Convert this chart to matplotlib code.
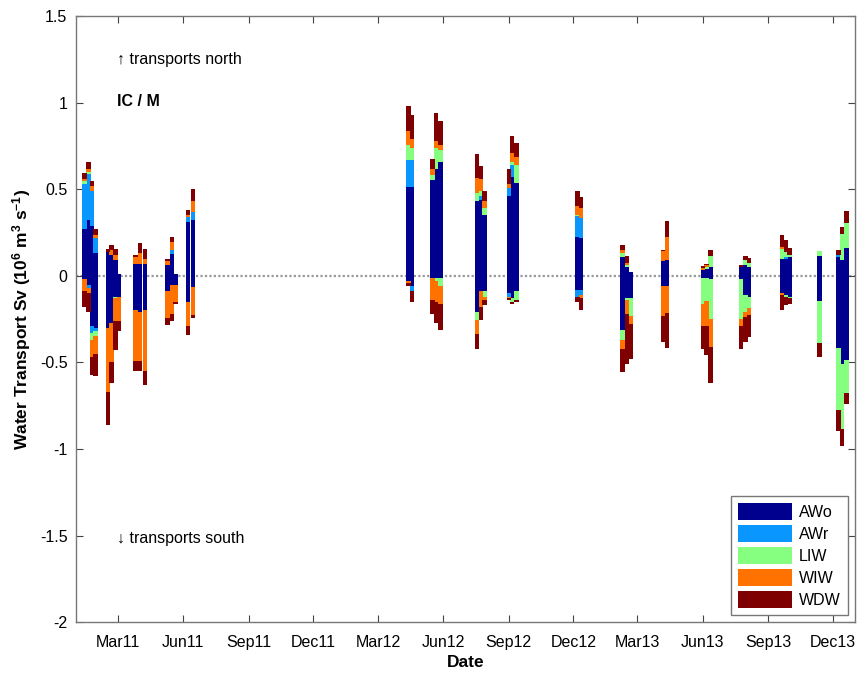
import matplotlib
matplotlib.use('Agg')
import matplotlib.pyplot as plt
import matplotlib.dates as mdates
import numpy as np
import pandas as pd

plt.rcParams['font.family'] = ['Liberation Sans', 'DejaVu Sans']
plt.rcParams['mathtext.fontset'] = 'custom'
plt.rcParams['mathtext.rm'] = 'Liberation Sans:bold'
plt.rcParams['mathtext.it'] = 'Liberation Sans:bold'
plt.rcParams['mathtext.bf'] = 'Liberation Sans:bold'
plt.rcParams['mathtext.default'] = 'rm'

# bar dates (roughly 5-6 day means)
dates = ['2011-01-13', '2011-01-19', '2011-01-24', '2011-01-29',
         '2011-02-15', '2011-02-20', '2011-02-26', '2011-03-03',
         '2011-03-26', '2011-04-01', '2011-04-08',
         '2011-05-10', '2011-05-16', '2011-05-21',
         '2011-06-08', '2011-06-15',
         '2012-04-13', '2012-04-18',
         '2012-05-17', '2012-05-22', '2012-05-28',
         '2012-07-18', '2012-07-24', '2012-07-29',
         '2012-09-01', '2012-09-06', '2012-09-12',
         '2012-12-07', '2012-12-12',
         '2013-02-08', '2013-02-14', '2013-02-19',
         '2013-04-06', '2013-04-12',
         '2013-06-01', '2013-06-06', '2013-06-12',
         '2013-07-25', '2013-07-31', '2013-08-05',
         '2013-09-20', '2013-09-26', '2013-10-01',
         '2013-11-12',
         '2013-12-09', '2013-12-14', '2013-12-20']

masses = ['AWo', 'AWr', 'LIW', 'WIW', 'WDW']
colors = ['#00008f', '#0a96ff', '#86ff80', '#ff7200', '#7f0000']

# northward (positive) transport per water mass, Sv
north_awo = [0.27, 0.32, 0.29, 0.13, 0.14, 0.12, 0.09, 0.01, 0.07, 0.07, 0.07, 0.06, 0.127, 0.01, 0.31, 0.32,
             0.516, 0.516, 0.555, 0.62, 0.66, 0.43, 0.44, 0.35, 0.46, 0.57, 0.535, 0.227, 0.218,
             0.11, 0.054, 0.02, 0.083, 0.092, 0.035, 0.04, 0.054, 0.05, 0.064, 0.054, 0.10, 0.10, 0.11,
             0.116, 0.108, 0.09, 0.16]
north_awr = [0.26, 0.27, 0.20, 0.09, 0, 0, 0, 0, 0, 0, 0, 0, 0.02, 0, 0.03, 0.05,
             0.154, 0.154, 0, 0, 0, 0, 0.02, 0, 0.05, 0.07, 0, 0.116, 0.116,
             0, 0, 0, 0, 0, 0, 0, 0, 0, 0, 0, 0, 0.01, 0,
             0, 0.01, 0, 0]
north_liw = [0.02, 0.01, 0, 0, 0, 0, 0, 0, 0, 0, 0, 0, 0, 0, 0, 0,
             0.087, 0.07, 0.03, 0.12, 0.067, 0.05, 0.03, 0.04, 0, 0.02, 0.106, 0.01, 0,
             0.02, 0.01, 0, 0, 0, 0, 0.01, 0.058, 0, 0.03, 0.02, 0.058, 0.03, 0.01,
             0.03, 0, 0.15, 0.144]
north_wiw = [0.01, 0.02, 0.03, 0.015, 0, 0.03, 0.03, 0, 0.04, 0.06, 0.03, 0.025, 0.05, 0, 0.01, 0.06,
             0.077, 0.05, 0.03, 0.04, 0.03, 0.087, 0.067, 0.04, 0.02, 0.05, 0.048, 0.05, 0.058,
             0.02, 0.01, 0, 0.058, 0.135, 0.01, 0.01, 0, 0, 0, 0, 0.01, 0, 0,
             0, 0, 0, 0]
north_wdw = [0.035, 0.04, 0.03, 0.035, 0.015, 0.03, 0.035, 0, 0.01, 0.06, 0.055, 0.01, 0.025, 0, 0.03, 0.07,
             0.148, 0.14, 0.06, 0.16, 0.135, 0.135, 0.077, 0.058, 0.087, 0.10, 0.077, 0.088, 0.064,
             0.03, 0.04, 0, 0.01, 0.092, 0.01, 0.01, 0.038, 0.014, 0.022, 0.03, 0.07, 0.067, 0.04,
             0, 0.03, 0.04, 0.073]

# southward (negative) transport per water mass, Sv (magnitudes)
south_awo = [0.02, 0.05, 0.29, 0.30, 0.30, 0.27, 0.12, 0.12, 0.20, 0.21, 0.20, 0.085, 0.05, 0.05, 0.15, 0.065,
             0.03, 0.06, 0.01, 0.01, 0.01, 0.206, 0.09, 0.09, 0.10, 0.13, 0.09, 0.08, 0.08,
             0.31, 0.13, 0.13, 0.06, 0.06, 0.01, 0.01, 0.02, 0.02, 0.11, 0.12, 0.10, 0.11, 0.12,
             0.148, 0.418, 0.51, 0.486]
south_awr = [0, 0.02, 0.04, 0.02, 0, 0, 0, 0, 0, 0, 0, 0, 0, 0, 0, 0,
             0, 0.03, 0, 0, 0, 0, 0, 0, 0.02, 0, 0, 0.04, 0.03,
             0, 0, 0, 0, 0, 0, 0, 0, 0, 0, 0, 0, 0, 0,
             0, 0, 0, 0]
south_liw = [0, 0, 0.04, 0.03, 0, 0, 0.01, 0, 0, 0, 0, 0, 0, 0, 0, 0,
             0, 0, 0, 0.02, 0.05, 0.05, 0, 0.03, 0, 0.02, 0.05, 0, 0,
             0.06, 0.01, 0.10, 0, 0, 0.154, 0.135, 0.23, 0.23, 0.096, 0.067, 0, 0.01, 0.01,
             0.24, 0.356, 0.375, 0.19]
south_wiw = [0.07, 0.03, 0.10, 0.10, 0.37, 0.23, 0.13, 0.14, 0.29, 0.28, 0.35, 0.16, 0.17, 0.10, 0.14, 0.16,
             0.01, 0, 0.13, 0.12, 0.10, 0.077, 0.087, 0.02, 0.01, 0, 0, 0, 0.02,
             0.05, 0.08, 0.05, 0.17, 0.154, 0.125, 0.145, 0.16, 0.04, 0.03, 0.04, 0.01, 0, 0,
             0, 0, 0, 0]
south_wdw = [0.09, 0.11, 0.10, 0.13, 0.19, 0.12, 0.17, 0.06, 0.06, 0.06, 0.08, 0.04, 0.04, 0.01, 0.05, 0.02,
             0.02, 0.06, 0.08, 0.12, 0.15, 0.09, 0.077, 0.03, 0.01, 0.015, 0.01, 0.03, 0.07,
             0.135, 0.29, 0.20, 0.154, 0.20, 0.135, 0.17, 0.21, 0.13, 0.145, 0.125, 0.09, 0.05, 0.03,
             0.08, 0.125, 0.10, 0.067]

x = pd.to_datetime(dates)
north = [north_awo, north_awr, north_liw, north_wiw, north_wdw]
south = [south_awo, south_awr, south_liw, south_wiw, south_wdw]

fig = plt.figure(figsize=(8.61, 6.74), dpi=100)
ax = fig.add_axes([0.088, 0.077, 0.905, 0.899])

ax.axhline(0, color='#9a9a9a', lw=1.6, ls=(0, (1, 1)), zorder=1)

bottom_n = np.zeros(len(dates))
bottom_s = np.zeros(len(dates))
for name, col, vn, vs in zip(masses, colors, north, south):
    vn = np.array(vn)
    vs = np.array(vs)
    ax.bar(x, vn, width=6.2, bottom=bottom_n, color=col, linewidth=0, label=name, zorder=2)
    ax.bar(x, -vs, width=6.2, bottom=-bottom_s, color=col, linewidth=0, zorder=2)
    bottom_n += vn
    bottom_s += vs

ax.set_xlim(pd.Timestamp('2011-01-01'), pd.Timestamp('2014-01-01'))
ax.set_ylim(-2, 1.5)
ax.set_yticks([-2, -1.5, -1, -0.5, 0, 0.5, 1, 1.5])
ax.set_yticklabels(['-2', '-1.5', '-1', '-0.5', '0', '0.5', '1', '1.5'])
ax.xaxis.set_major_locator(mdates.MonthLocator(bymonth=[3, 6, 9, 12]))
ax.xaxis.set_major_formatter(mdates.DateFormatter('%b%y'))

ax.tick_params(direction='in', top=True, right=True, length=5, width=0.8,
               color='#444444', labelsize=11.5)
ax.tick_params(axis='x', pad=9)
ax.tick_params(axis='y', pad=6)
for s in ax.spines.values():
    s.set_color('#777777')
    s.set_linewidth(1.0)

ax.set_xlabel('Date', fontsize=12.5, fontweight='bold', labelpad=4)
ax.set_ylabel('Water Transport Sv (10$^6$ m$^3$ s$^{-1}$)', fontsize=12.5, fontweight='bold', labelpad=5)

tx = pd.Timestamp('2011-02-28')
ax.text(tx, 1.25, '\u2191 transports north', fontsize=11.5, va='center', ha='left')
ax.text(tx, 1.005, 'IC / M', fontsize=11.5, fontweight='bold', va='center', ha='left')
ax.text(tx, -1.515, '\u2193 transports south', fontsize=11.5, va='center', ha='left')

leg = ax.legend(loc='lower right', fontsize=11.5, handlelength=3.4, handleheight=1.25,
                labelspacing=0.32, handletextpad=0.4, borderpad=0.45, borderaxespad=0.45,
                fancybox=False, framealpha=1)
leg.get_frame().set_edgecolor('#777777')
leg.get_frame().set_linewidth(1.0)

plt.savefig('out.png', dpi=100)
